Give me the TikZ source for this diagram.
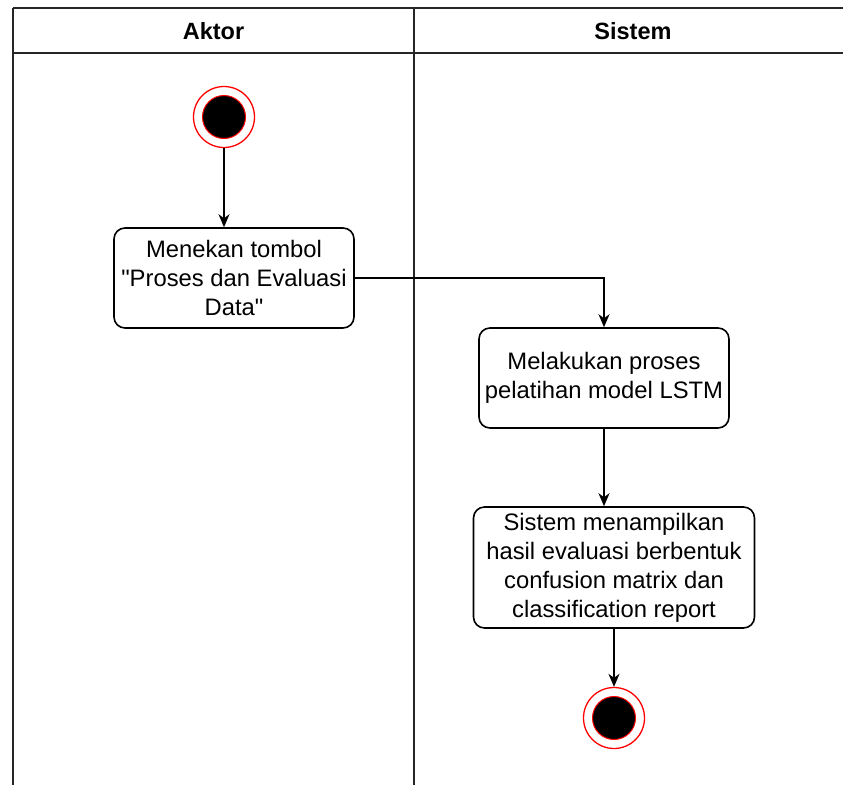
\documentclass[tikz,border=0pt]{standalone}
\usepackage{fontspec}
\setmainfont{Liberation Sans}[Ligatures=TeXOff]
\usetikzlibrary{arrows.meta,positioning}
\begin{document}
\begin{tikzpicture}[x=1pt,y=-1pt,
  lane/.style={line width=1.6pt,draw=black!85},
  act/.style={draw=black,line width=1.6pt,rounded corners=11pt,align=center,inner sep=0pt,
    font=\fontsize{23.8}{29}\selectfont},
  flow/.style={line width=1.6pt,-{Stealth[length=13pt,width=11pt,inset=4pt]}},
  hdr/.style={font=\fontsize{23.5}{26}\selectfont\bfseries},
  outerc/.style={circle,draw=red,line width=1.3pt,minimum size=61pt,inner sep=0pt},
  innerc/.style={circle,draw=red,fill=black,line width=1pt,minimum size=43pt,inner sep=0pt}]
\useasboundingbox (0,0) rectangle (843,785);
% swimlanes
\draw[lane] (13,8) -- (843,8);
\draw[lane] (13,53) -- (843,53);
\draw[lane] (13,8) -- (13,785);
\draw[lane] (414,8) -- (414,785);
\node[hdr] (h1) at (213.5,31) {Aktor};
\node[hdr] (h2) at (633,31) {Sistem};
% start
\node[outerc] (start) at (224,117) {};
\node[innerc] (startin) at (224,117) {};
% activities
\node[act,minimum width=240pt,minimum height=100pt] (a1) at (234,278)
  {Menekan tombol\\"Proses dan Evaluasi\\Data"};
\node[act,minimum width=250pt,minimum height=100pt] (a2) at (604,378)
  {Melakukan proses\\pelatihan model LSTM};
\node[act,minimum width=281pt,minimum height=121pt] (a3) at (614,567.5)
  {Sistem menampilkan\\hasil evaluasi berbentuk\\confusion matrix dan\\classification report};
% end
\node[outerc] (end) at (614,718) {};
\node[innerc] (endin) at (614,718) {};
\coordinate (c1) at (604,278);
% connectors
\draw[flow] (start.south) -- (start.south |- a1.north);
\draw[flow] (a1.east) -- (c1) -- (a2.north);
\draw[flow] (a2.south) -- (a2.south |- a3.north);
\draw[flow] (a3.south) -- (end.north);
\end{tikzpicture}
\end{document}
